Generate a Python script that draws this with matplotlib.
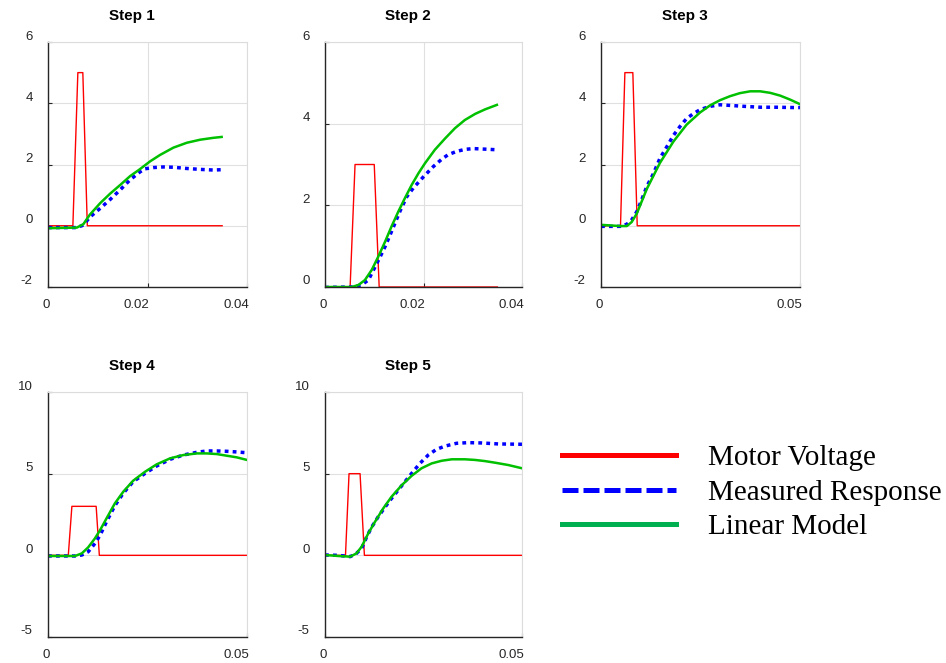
import matplotlib
matplotlib.use("Agg")
import matplotlib.pyplot as plt
from matplotlib.lines import Line2D
from matplotlib.transforms import ScaledTranslation

plt.rcParams['font.family'] = ['Liberation Sans', 'DejaVu Sans']

# ---- Step 1 ----
t_volt1 = [0, 0.0050, 0.0060, 0.0070, 0.0079, 0.0350]
volt1 = [0, 0, 5, 5, 0, 0]
t_meas1 = [0, 0.0058, 0.0071, 0.0084, 0.0105, 0.0125, 0.0145, 0.0165, 0.0185,
           0.0195, 0.0212, 0.0232, 0.0252, 0.0279, 0.0306, 0.0332, 0.0349]
meas1 = [-0.06, -0.06, 0.02, 0.28, 0.57, 0.86, 1.17, 1.50, 1.76,
         1.86, 1.90, 1.92, 1.91, 1.87, 1.84, 1.82, 1.83]
t_model1 = [0, 0.0058, 0.0071, 0.0084, 0.0105, 0.0125, 0.0145, 0.0165, 0.0185,
            0.0205, 0.0225, 0.0252, 0.0279, 0.0306, 0.0332, 0.0349]
model1 = [-0.08, -0.06, 0.05, 0.36, 0.74, 1.05, 1.33, 1.62, 1.85,
          2.10, 2.31, 2.55, 2.71, 2.81, 2.87, 2.90]

# ---- Step 2 ----
t_volt2 = [0, 0.0051, 0.0061, 0.0100, 0.0110, 0.0350]
volt2 = [0, 0, 3, 3, 0, 0]
t_meas2 = [0, 0.0054, 0.0074, 0.0088, 0.0102, 0.0112, 0.0122, 0.0132, 0.0142,
           0.0152, 0.0166, 0.0179, 0.0200, 0.0220, 0.0237, 0.0250, 0.0267,
           0.0284, 0.0301, 0.0318, 0.0335, 0.0349]
meas2 = [-0.01, 0, 0.05, 0.17, 0.50, 0.74, 0.99, 1.27, 1.56,
         1.85, 2.21, 2.42, 2.70, 2.95, 3.13, 3.24, 3.32,
         3.37, 3.39, 3.38, 3.37, 3.36]
t_model2 = [0, 0.0054, 0.0068, 0.0081, 0.0095, 0.0108, 0.0122, 0.0135, 0.0149,
            0.0162, 0.0176, 0.0190, 0.0203, 0.0223, 0.0244, 0.0264, 0.0284,
            0.0305, 0.0325, 0.0349]
model2 = [0, 0, 0.05, 0.17, 0.42, 0.74, 1.11, 1.48, 1.85,
          2.17, 2.50, 2.79, 3.03, 3.36, 3.64, 3.89, 4.09,
          4.24, 4.35, 4.46]

# ---- Step 3 ----
t_volt3 = [0, 0.0049, 0.0060, 0.0080, 0.0091, 0.0500]
volt3 = [0, 0, 5, 5, 0, 0]
t_meas3 = [0, 0.0048, 0.0065, 0.0077, 0.0090, 0.0102, 0.0115, 0.0132, 0.0148,
           0.0165, 0.0182, 0.0199, 0.0215, 0.0232, 0.0249, 0.0274, 0.0299,
           0.0324, 0.0358, 0.0400, 0.0441, 0.0483, 0.0500]
meas3 = [-0.02, -0.02, 0.05, 0.19, 0.46, 0.84, 1.28, 1.71, 2.20,
         2.57, 2.95, 3.25, 3.50, 3.66, 3.79, 3.90, 3.95,
         3.93, 3.90, 3.87, 3.87, 3.86, 3.86]
t_model3 = [0, 0.0048, 0.0065, 0.0077, 0.0090, 0.0115, 0.0148, 0.0182, 0.0215,
            0.0249, 0.0274, 0.0299, 0.0324, 0.0349, 0.0375, 0.0400, 0.0425,
            0.0450, 0.0475, 0.0500]
model3 = [0.03, -0.01, -0.01, 0.12, 0.40, 1.20, 2.05, 2.75, 3.30,
          3.70, 3.93, 4.10, 4.23, 4.33, 4.39, 4.39, 4.34,
          4.25, 4.12, 3.97]

# ---- Step 4 ----
t_volt4 = [0, 0.0051, 0.0060, 0.0121, 0.0129, 0.0500]
volt4 = [0, 0, 3, 3, 0, 0]
t_meas4 = [0, 0.0068, 0.0085, 0.0101, 0.0118, 0.0131, 0.0147, 0.0168, 0.0189,
           0.0214, 0.0244, 0.0273, 0.0307, 0.0340, 0.0374, 0.0399, 0.0424,
           0.0449, 0.0474, 0.0500]
meas4 = [-0.04, -0.04, 0.02, 0.22, 0.73, 1.24, 2.06, 3.04, 3.80,
         4.51, 5.02, 5.47, 5.88, 6.14, 6.31, 6.39, 6.39,
         6.37, 6.33, 6.28]
t_model4 = [0, 0.0068, 0.0085, 0.0101, 0.0118, 0.0131, 0.0147, 0.0168, 0.0189,
            0.0214, 0.0244, 0.0273, 0.0307, 0.0340, 0.0374, 0.0399, 0.0424,
            0.0449, 0.0474, 0.0500]
model4 = [-0.04, -0.04, 0.12, 0.49, 1.04, 1.55, 2.26, 3.18, 3.89,
          4.57, 5.12, 5.57, 5.94, 6.14, 6.24, 6.24, 6.20,
          6.10, 6.00, 5.84]

# ---- Step 5 ----
t_volt5 = [0, 0.0052, 0.0061, 0.0089, 0.0100, 0.0500]
volt5 = [0, 0, 5, 5, 0, 0]
t_meas5 = [0, 0.0034, 0.0064, 0.0080, 0.0093, 0.0106, 0.0118, 0.0135, 0.0152,
           0.0169, 0.0186, 0.0203, 0.0220, 0.0241, 0.0262, 0.0283, 0.0305,
           0.0334, 0.0364, 0.0398, 0.0440, 0.0500]
meas5 = [0.02, 0.0, -0.08, 0.12, 0.43, 1.14, 1.71, 2.36, 2.94,
         3.49, 4.00, 4.51, 5.02, 5.63, 6.14, 6.49, 6.69,
         6.86, 6.90, 6.88, 6.82, 6.80]
t_model5 = [0, 0.0034, 0.0064, 0.0080, 0.0093, 0.0110, 0.0127, 0.0148, 0.0169,
            0.0195, 0.0220, 0.0245, 0.0271, 0.0296, 0.0322, 0.0355, 0.0381,
            0.0406, 0.0432, 0.0465, 0.0500]
model5 = [0.02, -0.04, -0.08, 0.12, 0.53, 1.35, 2.06, 2.88, 3.59,
          4.30, 4.87, 5.33, 5.63, 5.79, 5.88, 5.88, 5.84,
          5.77, 5.67, 5.53, 5.33]

titles = ["Step 1", "Step 2", "Step 3", "Step 4", "Step 5"]
volts = [(t_volt1, volt1), (t_volt2, volt2), (t_volt3, volt3), (t_volt4, volt4), (t_volt5, volt5)]
meas = [(t_meas1, meas1), (t_meas2, meas2), (t_meas3, meas3), (t_meas4, meas4), (t_meas5, meas5)]
models = [(t_model1, model1), (t_model2, model2), (t_model3, model3), (t_model4, model4), (t_model5, model5)]
xticks = [[0, 0.02, 0.04], [0, 0.02, 0.04], [0, 0.05], [0, 0.05], [0, 0.05]]
yticks = [[-2, 0, 2, 4, 6], [0, 2, 4, 6], [-2, 0, 2, 4, 6], [-5, 0, 5, 10], [-5, 0, 5, 10]]

legend_labels = ["Motor Voltage", "Measured Response", "Linear Model"]

W, H = 946, 663
# axes boxes in pixels: left, top, right, bottom
boxes = [(48, 42, 247, 287), (325, 42, 522, 287), (601, 42, 800, 287),
         (48, 392, 247, 637), (325, 392, 522, 637)]

fig = plt.figure(figsize=(W / 100, H / 100), dpi=100)

for i in range(5):
    l, t, r, b = boxes[i]
    ax = fig.add_axes([l / W, 1 - b / H, (r - l) / W, (b - t) / H])
    ax.plot(volts[i][0], volts[i][1], color='#ff0000', lw=1.0)
    ax.plot(meas[i][0], meas[i][1], color='#0000ff', lw=2.5, linestyle=(0, (1.1, 1.2)))
    ax.plot(models[i][0], models[i][1], color='#00c000', lw=1.8)
    ax.set_xlim(xticks[i][0], xticks[i][-1])
    ax.set_ylim(yticks[i][0], yticks[i][-1])
    ax.set_xticks(xticks[i])
    ax.set_xticklabels([('%g' % v) for v in xticks[i]])
    ax.set_yticks(yticks[i])
    ax.set_yticklabels([('%g' % v) for v in yticks[i]])
    ax.grid(True, color='#e0e0e0', lw=0.8)
    ax.set_axisbelow(True)
    for s in ['top', 'right']:
        ax.spines[s].set_color('#dcdcdc')
        ax.spines[s].set_linewidth(0.8)
    for s in ['left', 'bottom']:
        ax.spines[s].set_color('#262626')
        ax.spines[s].set_linewidth(1.0)
    ax.tick_params(direction='in', length=3, width=0.8, colors='#262626', labelsize=9.5)
    ax.tick_params(axis='y', pad=11)
    ax.tick_params(axis='x', pad=9)
    for lab in ax.get_xticklabels():
        lab.set_ha('right')
        lab.set_transform(lab.get_transform() + ScaledTranslation(0.02, 0, fig.dpi_scale_trans))
    for lab in ax.get_yticklabels():
        lab.set_transform(lab.get_transform() + ScaledTranslation(0, 0.07, fig.dpi_scale_trans))
    ax.set_title(titles[i], fontsize=11, fontweight='bold', x=0.422, pad=16)

handles = [Line2D([], [], color='#ff0000', lw=3.6),
           Line2D([], [], color='#0000ff', lw=3.6, linestyle=(0, (3.2, 1.0))),
           Line2D([], [], color='#00b050', lw=3.6)]
fig.legend(handles, legend_labels, loc='upper left', bbox_to_anchor=(562 / W, 1 - 445 / H),
           frameon=False, prop={'family': 'Liberation Serif', 'size': 21},
           handlelength=3.9, handletextpad=1.12, labelspacing=0.27,
           borderpad=0, borderaxespad=0)

fig.savefig("out.png", dpi=100)
